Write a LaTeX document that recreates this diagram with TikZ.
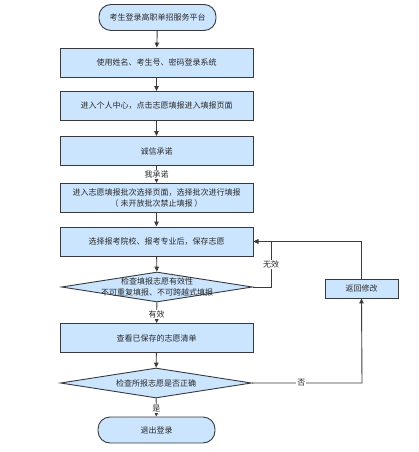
\documentclass[tikz,border=0pt]{standalone}
\usepackage{fontspec}
\newfontfamily\cjk{Noto Sans CJK SC}
\usetikzlibrary{shapes.geometric,arrows.meta}
\definecolor{boxfill}{RGB}{204,229,255}
\definecolor{boxline}{RGB}{54,57,61}
\definecolor{txt}{RGB}{40,40,40}
\definecolor{edge}{RGB}{60,60,60}
\tikzset{
  base/.style={draw=boxline, fill=boxfill, line width=0.9pt, text=txt, font=\cjk\fontsize{8}{10.5}\selectfont, align=center, inner sep=0pt},
  procbox/.style={base, rectangle, minimum width=193pt, minimum height=29pt},
  termbox/.style={base, rectangle, rounded corners=12pt, minimum width=117pt, minimum height=26pt},
  decbox/.style={base, diamond, aspect=6.33, minimum width=191pt, minimum height=30pt},
  smallbox/.style={base, rectangle, minimum width=73pt, minimum height=19pt},
  flow/.style={draw=edge, line width=0.9pt, -{Triangle[length=5pt,width=4.5pt]}},
  elabel/.style={fill=white, text=txt, font=\cjk\fontsize{8}{10.5}\selectfont, inner sep=1pt}
}
\begin{document}
\begin{tikzpicture}[x=1pt,y=-1pt]
\useasboundingbox[fill=white] (0,0) rectangle (419,452);
\node[termbox] (start) at (157.5,17.5) {考生登录高职单招服务平台};
\node[procbox] (b1) at (156.5,62.5) {使用姓名、考生号、密码登录系统};
\node[procbox] (b2) at (156.5,106) {进入个人中心，点击志愿填报进入填报页面};
\node[procbox] (b3) at (156.5,151) {诚信承诺};
\node[procbox] (b4) at (156.5,198) {进入志愿填报批次选择页面，选择批次进行填报\\（ 未开放批次禁止填报 ）};
\node[procbox] (b5) at (156.5,241.5) {选择报考院校、报考专业后，保存志愿};
\node[decbox, label={[font=\cjk\fontsize{8}{10.5}\selectfont, text=txt, align=center]center:检查填报志愿有效性\\不可重复填报、不可跨越式填报}] (d1) at (157,287) {};
\node[procbox] (b6) at (156.5,338) {查看已保存的志愿清单};
\node[decbox, label={[font=\cjk\fontsize{8}{10.5}\selectfont, text=txt]center:检查所报志愿是否正确}] (d2) at (156,383) {};
\node[termbox] (end) at (156.5,430) {退出登录};
\node[smallbox] (ret) at (361.5,288.5) {返回修改};
\coordinate (c1) at (271,287);
\coordinate (c2) at (362,383);

\draw[flow] (start) -- (b1);
\draw[flow] (b1) -- (b2);
\draw[flow] (b2) -- (b3);
\draw[flow] (b3) -- node[elabel] {我承诺} (b4);
\draw[flow] (b4) -- (b5);
\draw[flow] (b5) -- (d1);
\draw[flow] (d1) -- node[elabel, pos=0.6] {有效} (b6);
\draw[flow] (b6) -- (d2);
\draw[flow] (d2) -- node[elabel, pos=0.55] {是} (end);
\draw[flow] (d1.east) -- (c1) -- node[elabel] {无效} (c1 |- b5.east) -- (b5.east);
\draw[flow] (d2.east) -- node[elabel, pos=0.45] {否} (c2) -- (ret.south);
\draw[flow] (ret.north) |- (b5.east);
\end{tikzpicture}
\end{document}
